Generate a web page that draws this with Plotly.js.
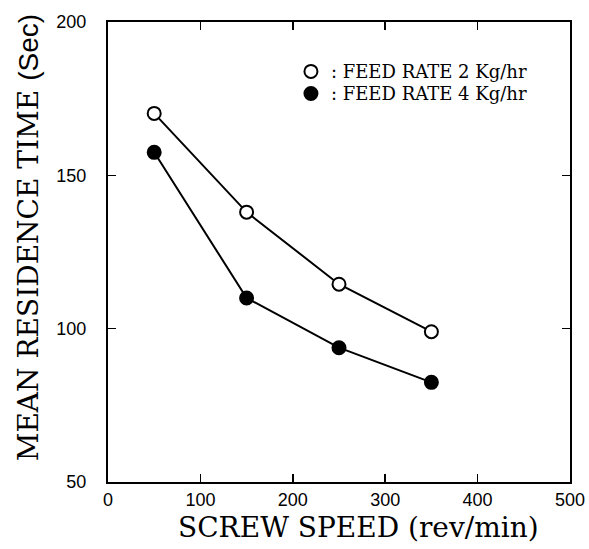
<!DOCTYPE html>
<html>
<head>
<meta charset="utf-8">
<script src="https://cdn.plot.ly/plotly-3.0.1.min.js"></script>
<style>html,body{margin:0;padding:0;background:#fff;}</style>
</head>
<body>
<div id="chart" style="width:589px;height:549px;"></div>
<script>
// Data
var screwSpeed = [50, 150, 250, 350];
var feed2 = [170.2, 138.0, 114.5, 99.0];
var feed4 = [157.5, 110.0, 93.8, 82.5];
var seriesNames = [': FEED RATE 2 Kg/hr', ': FEED RATE 4 Kg/hr'];
var xTicks = [0, 100, 200, 300, 400, 500];
var yTicks = [50, 100, 150, 200];
var xTitle = 'SCREW SPEED (rev/min)';
var yTitle = "MEAN RESIDENCE TIME <span style='font-family:Liberation Sans, Arial, sans-serif'>(Sec)</span>";

var serif = 'DejaVu Serif, serif';
var sans = 'Liberation Sans, Arial, sans-serif';

function lineTrace(y) {
  return {x: screwSpeed, y: y, type: 'scatter', mode: 'lines', showlegend: false,
    line: {color: '#000', width: 2}, hoverinfo: 'skip'};
}
function markerTrace(y, name, fill, legendId) {
  return {x: screwSpeed, y: y, name: name, type: 'scatter', mode: 'markers',
    legend: legendId,
    marker: {symbol: 'circle', size: 13, color: fill, line: {color: '#000', width: 2}}};
}

var traces = [
  lineTrace(feed2),
  lineTrace(feed4),
  markerTrace(feed2, seriesNames[0], '#fff', 'legend'),
  markerTrace(feed4, seriesNames[1], '#000', 'legend2')
];

var legendFont = {family: serif, size: 18, color: '#000'};
var layout = {
  width: 589, height: 549,
  margin: {l: 108, r: 19, t: 22, b: 67},
  paper_bgcolor: '#fff', plot_bgcolor: '#fff',
  showlegend: true,
  legend: {
    x: 0.396, y: 0.892, xanchor: 'left', yanchor: 'middle',
    bgcolor: 'rgba(0,0,0,0)', borderwidth: 0, font: legendFont, itemwidth: 30
  },
  legend2: {
    x: 0.396, y: 0.844, xanchor: 'left', yanchor: 'middle',
    bgcolor: 'rgba(0,0,0,0)', borderwidth: 0, font: legendFont, itemwidth: 30
  },
  xaxis: {
    range: [0, 500], tickvals: xTicks, ticktext: xTicks.map(String),
    ticks: 'inside', ticklen: 8, tickwidth: 1.5, tickcolor: '#000',
    showline: true, linecolor: '#000', linewidth: 2, mirror: 'ticks',
    showgrid: false, zeroline: false,
    tickfont: {family: sans, size: 18, color: '#000'}
  },
  yaxis: {
    range: [50, 200], tickvals: yTicks, ticktext: yTicks.map(String),
    ticks: 'inside', ticklen: 8, tickwidth: 1.5, tickcolor: '#000',
    showline: true, linecolor: '#000', linewidth: 2, mirror: 'ticks',
    showgrid: false, zeroline: false,
    tickfont: {family: sans, size: 18, color: '#000'},
    ticklabelstandoff: 16
  },
  annotations: [
    {text: xTitle, xref: 'paper', yref: 'paper', x: 0.543, y: -0.098,
     xanchor: 'center', yanchor: 'middle', showarrow: false,
     font: {family: serif, size: 28, color: '#000'}},
    {text: yTitle, xref: 'paper', yref: 'paper', x: -0.173, y: 0.530,
     xanchor: 'center', yanchor: 'middle', showarrow: false, textangle: -90,
     font: {family: serif, size: 28, color: '#000'}}
  ]
};

Plotly.newPlot('chart', traces, layout, {displayModeBar: false, staticPlot: true});
</script>
</body>
</html>
